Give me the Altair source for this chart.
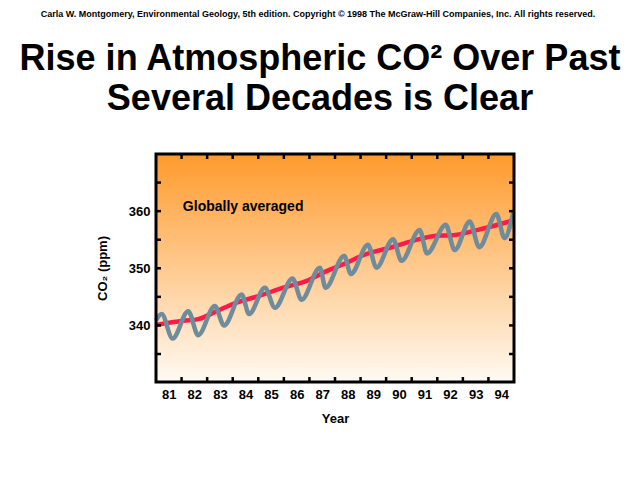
import altair as alt
import pandas as pd

# ---- data ----
gray_year = [1981.0, 1981.22, 1981.65, 1982.26, 1982.65, 1983.30, 1983.66, 1984.35, 1984.64,
             1985.26, 1985.65, 1986.34, 1986.69, 1987.41, 1987.63, 1988.36, 1988.62, 1989.29,
             1989.62, 1990.27, 1990.60, 1991.31, 1991.60, 1992.33, 1992.68, 1993.27, 1993.64,
             1994.31, 1994.63, 1994.97]
gray_ppm = [340.9, 342.0, 337.7, 342.5, 338.3, 343.4, 340.0, 345.4, 342.0,
            346.6, 343.1, 348.2, 344.5, 350.1, 346.6, 352.2, 349.0, 354.1,
            350.1, 355.1, 351.3, 356.7, 352.6, 357.6, 353.2, 358.2, 353.7,
            359.5, 355.3, 359.8]

red_year = [1981.0, 1982.07, 1982.65, 1983.37, 1984.15, 1985.06, 1985.97, 1986.89, 1987.67,
            1988.32, 1989.23, 1990.14, 1991.05, 1991.96, 1992.61, 1993.39, 1994.18, 1995.0]
red_ppm = [340.1, 340.8, 341.1, 342.5, 344.0, 345.2, 346.6, 347.8, 349.5,
           350.7, 352.5, 353.6, 354.8, 355.7, 355.8, 356.5, 357.4, 358.4]

x_tick_years = list(range(1982, 1995))
x_label_pos = [y + 0.5 for y in range(1981, 1995)]
y_tick_ppm = [335, 340, 345, 350, 355, 360, 365]
y_label_ppm = [340, 350, 360]

title_lines = ["Rise in Atmospheric CO\u00b2 Over Past", "Several Decades is Clear"]
credit = ("Carla W. Montgomery, Environmental Geology, 5th edition. Copyright \u00a9 1998 "
          "The McGraw-Hill Companies, Inc. All rights reserved.")
note = "Globally averaged"

W, H = 358, 228
FONT = "Liberation Sans"

xs = alt.Scale(domain=[1981, 1995], nice=False, zero=False)
ys = alt.Scale(domain=[330.1, 370.0], nice=False, zero=False)

x_axis = alt.Axis(values=x_label_pos, labelExpr="'' + (floor(datum.value) % 100)",
                  ticks=False, domain=False, grid=False, title="Year",
                  labelPadding=6, titlePadding=11, labelOverlap=False)
y_axis = alt.Axis(values=y_label_ppm, format="d", ticks=False, domain=False, grid=False,
                  title="CO\u2082 (ppm)", labelPadding=6, titlePadding=19)

gray_df = pd.DataFrame({"year": gray_year, "ppm": gray_ppm})
red_df = pd.DataFrame({"year": red_year, "ppm": red_ppm})
xt_df = pd.DataFrame({"year": x_tick_years})
yt_df = pd.DataFrame({"ppm": y_tick_ppm})
one = pd.DataFrame({"a": [0]})

bg = alt.Chart(one).mark_rect(
    fill=alt.Gradient(gradient="linear", x1=0, x2=0, y1=0, y2=1,
                      stops=[alt.GradientStop(color="#FF9A2C", offset=0),
                             alt.GradientStop(color="#FFFAF3", offset=1)])
).encode(x=alt.value(0), x2=alt.value(W), y=alt.value(0), y2=alt.value(H))

red = alt.Chart(red_df).mark_line(color="#FF1A4A", strokeWidth=4.5, interpolate="monotone").encode(
    x=alt.X("year:Q", scale=xs, axis=x_axis),
    y=alt.Y("ppm:Q", scale=ys, axis=y_axis),
)
gray = alt.Chart(gray_df).mark_line(color="#6E8C9C", strokeWidth=4.5, interpolate="monotone").encode(
    x=alt.X("year:Q", scale=xs, axis=x_axis),
    y=alt.Y("ppm:Q", scale=ys, axis=y_axis),
)

tk = dict(color="black", strokeWidth=2.5)
bot_ticks = alt.Chart(xt_df).mark_rule(**tk).encode(
    x=alt.X("year:Q", scale=xs, axis=x_axis), y=alt.value(H), y2=alt.value(H - 5))
top_ticks = alt.Chart(xt_df).mark_rule(**tk).encode(
    x=alt.X("year:Q", scale=xs, axis=x_axis), y=alt.value(0), y2=alt.value(5))
left_ticks = alt.Chart(yt_df).mark_rule(**tk).encode(
    y=alt.Y("ppm:Q", scale=ys, axis=y_axis), x=alt.value(0), x2=alt.value(5))
right_ticks = alt.Chart(yt_df).mark_rule(**tk).encode(
    y=alt.Y("ppm:Q", scale=ys, axis=y_axis), x=alt.value(W), x2=alt.value(W - 5))

frame = alt.Chart(one).mark_rect(fill=None, stroke="black", strokeWidth=3).encode(
    x=alt.value(0), x2=alt.value(W), y=alt.value(0), y2=alt.value(H))

note_df = pd.DataFrame({"year": [1982.05], "ppm": [360.75], "t": [note]})
note_txt = alt.Chart(note_df).mark_text(font=FONT, fontWeight="bold", fontSize=14,
                                        align="left", baseline="middle", color="black").encode(
    x=alt.X("year:Q", scale=xs, axis=x_axis), y=alt.Y("ppm:Q", scale=ys, axis=y_axis), text="t:N")

t1 = alt.Chart(pd.DataFrame({"t": [title_lines[0]]})).mark_text(
    font=FONT, fontWeight="bold", fontSize=36, align="center", baseline="alphabetic", color="black"
).encode(x=alt.value(164), y=alt.value(-84), text="t:N")
t2 = alt.Chart(pd.DataFrame({"t": [title_lines[1]]})).mark_text(
    font=FONT, fontWeight="bold", fontSize=36, align="center", baseline="alphabetic", color="black"
).encode(x=alt.value(164), y=alt.value(-44), text="t:N")
cr = alt.Chart(pd.DataFrame({"t": [credit]})).mark_text(
    font=FONT, fontWeight="bold", fontSize=9, align="center", baseline="alphabetic", color="black"
).encode(x=alt.value(162), y=alt.value(-137), text="t:N")

chart = alt.layer(bg, red, gray, bot_ticks, top_ticks, left_ticks, right_ticks, frame,
                  note_txt, t1, t2, cr).properties(
    width=W, height=H,
    padding={"left": 148, "top": 146, "right": 118, "bottom": 91},
    autosize=alt.AutoSizeParams(type="none"),
    background="white",
).configure_view(strokeWidth=0).configure_axis(
    labelFont=FONT, titleFont=FONT, labelFontWeight="bold", titleFontWeight="bold",
    labelFontSize=13, titleFontSize=13, labelColor="black", titleColor="black",
)

chart.save("out.html", embed_options={"renderer": "svg", "actions": False})
